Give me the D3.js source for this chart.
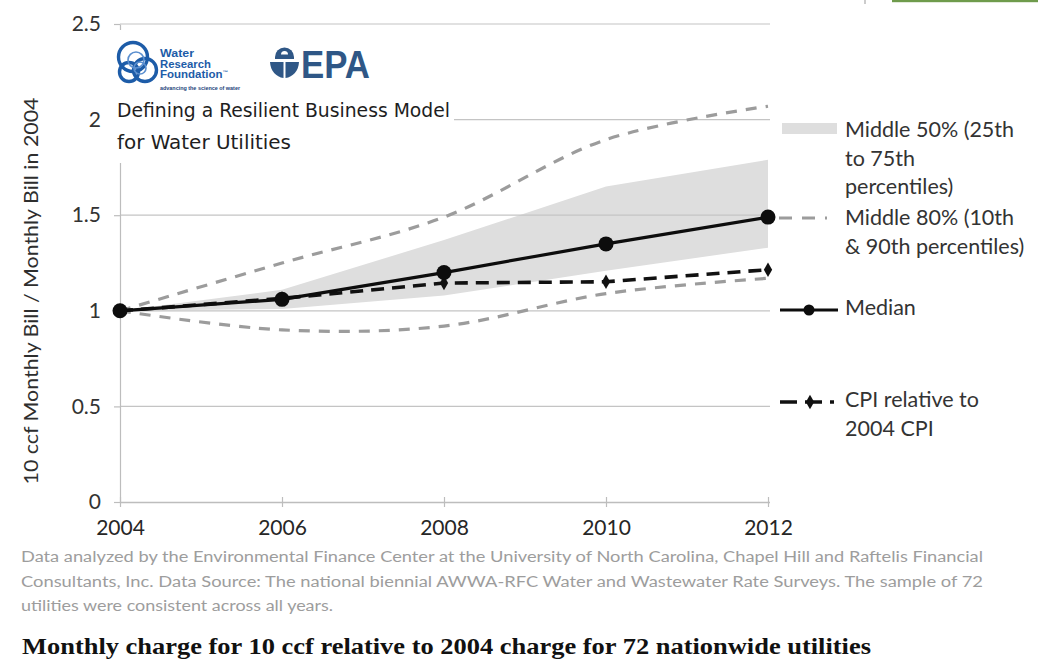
<!DOCTYPE html>
<html>
<head>
<meta charset="utf-8">
<script src="https://cdn.jsdelivr.net/npm/d3@7"></script>
<style>
  body { margin: 0; background: #fff; }
  svg { display: block; }
</style>
</head>
<body>
<svg id="chart" width="1038" height="664"></svg>
<script>
// Survey years and ratio of 10 ccf monthly bill to the 2004 bill
const years  = [2004, 2006, 2008, 2010, 2012];
const median = [1.00, 1.06, 1.20, 1.35, 1.49];
const cpi    = [1.00, 1.065, 1.145, 1.152, 1.215];
const p25    = [1.00, 1.01, 1.08, 1.21, 1.33];
const p75    = [1.00, 1.11, 1.37, 1.65, 1.79];
const p10    = [1.00, 0.90, 0.92, 1.09, 1.17];
const p90    = [1.00, 1.25, 1.49, 1.895, 2.07];

const yTicks      = [0, 0.5, 1, 1.5, 2, 2.5];
const yTickLabels = ["0", "0.5", "1", "1.5", "2", "2.5"];
const xTickLabels = ["2004", "2006", "2008", "2010", "2012"];

const yAxisTitle = "10 ccf Monthly Bill / Monthly Bill in 2004";
const legendBand   = ["Middle 50% (25th", "to 75th", "percentiles)"];
const legendRange  = ["Middle 80% (10th", "& 90th percentiles)"];
const legendMedian = ["Median"];
const legendCpi    = ["CPI relative to", "2004 CPI"];
const reportTitle  = ["Defining a Resilient Business Model", "for Water Utilities"];
const wrfName      = ["Water", "Research", "Foundation"];
const wrfTagline   = "advancing the science of water";
const epaName      = "EPA";
const footnote = [
  "Data analyzed by the Environmental Finance Center at the University of North Carolina, Chapel Hill and Raftelis Financial",
  "Consultants, Inc. Data Source: The national biennial  AWWA-RFC Water and Wastewater Rate Surveys. The sample of 72",
  "utilities  were consistent across all years."
];
const chartTitle = "Monthly charge for 10 ccf relative to 2004 charge for 72 nationwide utilities";

const svg = d3.select("#chart");
const FONT = "Lato, 'Open Sans', sans-serif";

const x = d3.scaleLinear().domain([2004, 2012]).range([120, 768]);
const y = d3.scaleLinear().domain([0, 2.5]).range([502, 24]);

const rows = years.map((yr, i) => ({
  year: yr, median: median[i], cpi: cpi[i],
  p25: p25[i], p75: p75[i], p10: p10[i], p90: p90[i]
}));

// top-right accent
svg.append("rect").attr("x", 892).attr("y", 0).attr("width", 146).attr("height", 2.2).attr("fill", "#6f9b4c");
svg.append("line").attr("x1", 865).attr("x2", 865).attr("y1", 0).attr("y2", 4)
  .attr("stroke", "#bbb").attr("stroke-width", 1.5);

// interquartile band
svg.append("path")
  .datum(rows)
  .attr("fill", "#dedede")
  .attr("d", d3.area().x(d => x(d.year)).y0(d => y(d.p25)).y1(d => y(d.p75)));

// horizontal gridlines
svg.append("g").selectAll("line")
  .data(yTicks.filter(v => v > 0))
  .join("line")
  .attr("x1", 120).attr("x2", 770)
  .attr("y1", d => y(d)).attr("y2", d => y(d))
  .attr("stroke", "#c4c4c4").attr("stroke-width", 1.2);

// y axis
const yAxis = svg.append("g")
  .attr("transform", "translate(120,0)")
  .call(d3.axisLeft(y).tickValues(yTicks)
    .tickFormat((d, i) => yTickLabels[i]).tickSizeInner(6).tickSizeOuter(0).tickPadding(13));
yAxis.select(".domain").attr("stroke", "#bdbdbd").attr("stroke-width", 1.2);
yAxis.selectAll(".tick line").attr("stroke", "#bdbdbd").attr("stroke-width", 1.2);
yAxis.selectAll("text").attr("font-family", FONT).attr("font-size", 21).attr("fill", "#333");

// x axis
const xAxis = svg.append("g")
  .attr("transform", "translate(0,502)")
  .call(d3.axisBottom(x).tickValues(years)
    .tickFormat((d, i) => xTickLabels[i]).tickSizeInner(5).tickSizeOuter(0).tickPadding(13));
xAxis.select(".domain").attr("stroke", "#bdbdbd").attr("stroke-width", 1.5)
  .attr("d", "M120,0.5H770");
xAxis.selectAll(".tick line").attr("stroke", "#bdbdbd").attr("stroke-width", 1.2).attr("y1", -5);
xAxis.selectAll("text").attr("font-family", FONT).attr("font-size", 21).attr("fill", "#262626");

// y axis title
svg.append("text")
  .attr("transform", "translate(38,291) rotate(-90)")
  .attr("text-anchor", "middle")
  .attr("font-family", FONT).attr("font-size", 19.5).attr("fill", "#2e2e2e")
  .attr("textLength", 387).attr("lengthAdjust", "spacingAndGlyphs")
  .text(yAxisTitle);

// 10th / 90th percentile curves
const smooth = d3.curveCatmullRom.alpha(0.5);
["p90", "p10"].forEach(key => {
  svg.append("path")
    .datum(rows)
    .attr("fill", "none")
    .attr("stroke", "#9c9c9c").attr("stroke-width", 3.2)
    .attr("stroke-dasharray", "11 9")
    .attr("d", d3.line().curve(smooth).x(d => x(d.year)).y(d => y(d[key])));
});

// CPI series
svg.append("path")
  .datum(rows)
  .attr("fill", "none")
  .attr("stroke", "#111").attr("stroke-width", 3.6)
  .attr("stroke-dasharray", "13 8")
  .attr("d", d3.line().x(d => x(d.year)).y(d => y(d.cpi)));
svg.append("g").selectAll("path")
  .data(rows)
  .join("path")
  .attr("transform", d => `translate(${x(d.year)},${y(d.cpi)})`)
  .attr("d", d3.symbol(d3.symbolDiamond, 60))
  .attr("fill", "#111");

// median series
svg.append("path")
  .datum(rows)
  .attr("fill", "none")
  .attr("stroke", "#0d0d0d").attr("stroke-width", 3.2)
  .attr("d", d3.line().x(d => x(d.year)).y(d => y(d.median)));
svg.append("g").selectAll("circle")
  .data(rows)
  .join("circle")
  .attr("cx", d => x(d.year)).attr("cy", d => y(d.median))
  .attr("r", 7.5).attr("fill", "#0d0d0d");

// legend
const legend = svg.append("g");
legend.append("rect").attr("x", 782).attr("y", 123).attr("width", 55).attr("height", 11).attr("fill", "#dedede");
legend.append("line").attr("x1", 779).attr("x2", 827).attr("y1", 218).attr("y2", 218)
  .attr("stroke", "#9c9c9c").attr("stroke-width", 3.2).attr("stroke-dasharray", "13 10");
legend.append("line").attr("x1", 780).attr("x2", 838).attr("y1", 310).attr("y2", 310)
  .attr("stroke", "#0d0d0d").attr("stroke-width", 3.2);
legend.append("circle").attr("cx", 809).attr("cy", 310).attr("r", 5.5).attr("fill", "#0d0d0d");
legend.append("line").attr("x1", 780).attr("x2", 834).attr("y1", 402).attr("y2", 402)
  .attr("stroke", "#111").attr("stroke-width", 3.6).attr("stroke-dasharray", "17 8");
legend.append("path").attr("transform", "translate(810,402)")
  .attr("d", d3.symbol(d3.symbolDiamond, 60)).attr("fill", "#111");

const legendBlocks = [
  { lines: legendBand, y: 137 },
  { lines: legendRange, y: 225 },
  { lines: legendMedian, y: 315 },
  { lines: legendCpi, y: 407 }
];
legendBlocks.forEach(b => {
  legend.append("g").selectAll("text")
    .data(b.lines)
    .join("text")
    .attr("x", 845).attr("y", (d, i) => b.y + i * 28.5)
    .attr("font-family", FONT).attr("font-size", 21.5).attr("fill", "#333")
    .text(d => d);
});

// report masthead panel
const mast = svg.append("g");
mast.append("rect").attr("x", 106).attr("y", 30).attr("width", 348).attr("height", 133).attr("fill", "#fff");

// Water Research Foundation mark
const wrfBlue = "#1d5ca8";
[[133, 57, 14.5], [145, 70, 11.5], [129, 72, 9.5]].forEach(([cx, cy, r]) => {
  mast.append("circle").attr("cx", cx).attr("cy", cy).attr("r", r)
    .attr("fill", "none").attr("stroke", wrfBlue).attr("stroke-width", 3.4);
});
[[136, 60, 8], [140, 68, 6]].forEach(([cx, cy, r]) => {
  mast.append("circle").attr("cx", cx).attr("cy", cy).attr("r", r)
    .attr("fill", "none").attr("stroke", "#5b8fcf").attr("stroke-width", 1.6);
});
const wrfWidths = [34, 51, 68];
const wrfText = mast.append("g").selectAll("text")
  .data(wrfName)
  .join("text")
  .attr("x", 160).attr("y", (d, i) => 57 + i * 10.6)
  .attr("font-family", "'Liberation Sans', Arial, sans-serif").attr("font-size", 10.5)
  .attr("font-weight", "bold").attr("fill", wrfBlue)
  .attr("textLength", (d, i) => wrfWidths[i]).attr("lengthAdjust", "spacingAndGlyphs")
  .text(d => d);
wrfText.filter((d, i) => i === 2).append("tspan")
  .attr("font-size", 5).attr("dy", -4).text("™");
mast.append("text").attr("x", 160).attr("y", 90)
  .attr("font-family", "'Liberation Sans', Arial, sans-serif").attr("font-size", 5)
  .attr("font-weight", "bold").attr("fill", "#1b3f7a")
  .attr("textLength", 80).attr("lengthAdjust", "spacingAndGlyphs")
  .text(wrfTagline);

// EPA mark
const epaBlue = "#2f5786";
mast.append("path")
  .attr("d", "M275,57 A9.5,9.5 0 0 1 294,57 L294,59 L275,59 Z")
  .attr("fill", epaBlue);
mast.append("path")
  .attr("d", "M281,54.5 A3.5,3.5 0 0 1 288,54.5 Z").attr("fill", "#fff");
mast.append("path")
  .attr("d", "M270,62 L283.5,62 L283.5,78 C276,77 270.5,71 270,62 Z").attr("fill", epaBlue);
mast.append("path")
  .attr("d", "M299,62 L285.5,62 L285.5,78 C293,77 298.5,71 299,62 Z").attr("fill", epaBlue);
mast.append("text").attr("x", 301).attr("y", 78)
  .attr("font-family", "'Liberation Sans', Arial, sans-serif").attr("font-size", 38)
  .attr("font-weight", "bold").attr("fill", epaBlue)
  .attr("textLength", 69).attr("lengthAdjust", "spacingAndGlyphs")
  .text(epaName);

// report title
const rtWidths = [333, 174];
mast.append("g").selectAll("text")
  .data(reportTitle)
  .join("text")
  .attr("x", 117).attr("y", (d, i) => 117 + i * 31.5)
  .attr("font-family", "'DejaVu Sans Condensed', 'DejaVu Sans', sans-serif")
  .attr("font-stretch", "condensed")
  .attr("font-size", 20).attr("fill", "#1e1e1e")
  .attr("textLength", (d, i) => rtWidths[i]).attr("lengthAdjust", "spacingAndGlyphs")
  .text(d => d);

// source note
const fnWidths = [962, 962, 312];
svg.append("g").selectAll("text")
  .data(footnote)
  .join("text")
  .attr("x", 21).attr("y", (d, i) => 562 + i * 24.5)
  .attr("font-family", FONT).attr("font-size", 15.5).attr("fill", "#9d9d9d")
  .attr("textLength", (d, i) => fnWidths[i]).attr("lengthAdjust", "spacingAndGlyphs")
  .text(d => d);

// caption
svg.append("text")
  .attr("x", 22).attr("y", 654)
  .attr("font-family", "'Liberation Serif', 'Times New Roman', serif")
  .attr("font-size", 23).attr("font-weight", "bold").attr("fill", "#111")
  .attr("textLength", 849).attr("lengthAdjust", "spacingAndGlyphs")
  .text(chartTitle);
</script>
</body>
</html>
